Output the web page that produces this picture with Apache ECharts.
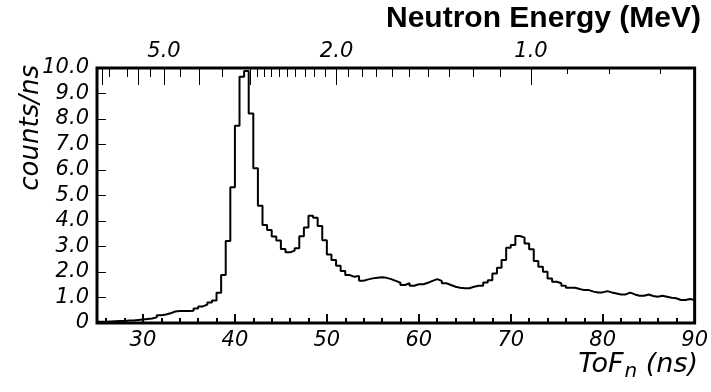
<!DOCTYPE html>
<html>
<head>
<meta charset="utf-8">
<script src="https://cdn.jsdelivr.net/npm/echarts@6/dist/echarts.min.js"></script>
<style>
  html, body { margin: 0; padding: 0; background: #fff; }
  #chart { width: 711px; height: 392px; }
</style>
</head>
<body>
<div id="chart"></div>
<script>
// ToF histogram, 0.5 ns bins starting at 25 ns
const TOF_MIN = 25;
const TOF_MAX = 90;
const BIN_WIDTH = 0.5;
const counts = [
  0.05, 0.05, 0.06, 0.07, 0.08, 0.08, 0.10, 0.10, 0.12, 0.14,
  0.16, 0.18, 0.22, 0.30, 0.33, 0.38, 0.45, 0.47, 0.47, 0.47,
  0.48, 0.57, 0.65, 0.72, 0.80, 0.88, 1.19, 1.88, 3.22, 5.32,
  7.74, 9.66, 9.88, 8.22, 6.07, 4.60, 3.84, 3.65, 3.39, 3.24,
  2.90, 2.77, 2.84, 2.93, 3.40, 3.75, 4.21, 4.13, 3.80, 3.25,
  2.69, 2.47, 2.25, 2.04, 1.88, 1.81, 1.84, 1.66, 1.71, 1.75,
  1.77, 1.79, 1.77, 1.72, 1.65, 1.58, 1.49, 1.56, 1.46, 1.52,
  1.52, 1.58, 1.65, 1.72, 1.65, 1.56, 1.49, 1.42, 1.38, 1.36,
  1.36, 1.42, 1.46, 1.46, 1.59, 1.68, 1.94, 2.17, 2.47, 2.95,
  3.06, 3.41, 3.35, 3.12, 2.89, 2.43, 2.21, 2.01, 1.75, 1.62,
  1.56, 1.46, 1.38, 1.38, 1.33, 1.29, 1.29, 1.23, 1.20, 1.20,
  1.25, 1.20, 1.16, 1.12, 1.12, 1.19, 1.12, 1.07, 1.07, 1.12,
  1.06, 1.03, 1.07, 1.03, 0.99, 0.97, 0.90, 0.90, 0.94, 0.90
];

const tofLabels = [30, 40, 50, 60, 70, 80, 90];
const tofMinorTicks = [26, 28, 32, 34, 36, 38, 42, 44, 46, 48, 52, 54, 56, 58,
  62, 64, 66, 68, 72, 74, 76, 78, 82, 84, 86, 88];

// top axis: neutron energy (MeV), ToF = FLIGHT_CONST / sqrt(E)
const FLIGHT_CONST = 72.2;
const energyLabels = [5.0, 2.0, 1.0];
const energyLongTicks = [8, 6, 5, 4, 3, 2, 1];
const energyMidTicks = [7.5, 6.5, 5.5, 4.5, 3.5,
  2.9, 2.8, 2.7, 2.6, 2.5, 2.4, 2.3, 2.2, 2.1,
  1.9, 1.8, 1.7, 1.6, 1.5, 1.4, 1.3, 1.2, 1.1];
const energyShortTicks = [0.9, 0.8, 0.7];

const eToTof = (e) => FLIGHT_CONST / Math.sqrt(e);
const tofToE = (t) => (FLIGHT_CONST / t) * (FLIGHT_CONST / t);

const histData = counts.map((v, i) => [TOF_MIN + i * BIN_WIDTH, v]);
histData.push([TOF_MAX, counts[counts.length - 1]]);

const labelFont = {
  color: "#000",
  fontFamily: "DejaVu Sans",
  fontStyle: "italic",
  fontSize: 21,
};

function topAxis(energies, length, withLabels) {
  return {
    type: "value",
    position: "top",
    min: TOF_MIN,
    max: TOF_MAX,
    axisLine: { show: false },
    splitLine: { show: false },
    axisTick: {
      show: true,
      inside: true,
      length: length,
      customValues: energies.map(eToTof),
      lineStyle: { color: "#000", width: 1 },
    },
    axisLabel: withLabels
      ? {
          show: true,
          margin: 6,
          customValues: energies.map(eToTof),
          formatter: (v) => tofToE(v).toFixed(1),
          ...labelFont,
        }
      : { show: false },
  };
}

const chart = echarts.init(document.getElementById("chart"), null, { renderer: "canvas" });

chart.setOption({
  animation: false,
  backgroundColor: "#fff",
  grid: {
    left: 97,
    right: 11,
    top: 68,
    bottom: 69,
    show: true,
    borderColor: "#000",
    borderWidth: 3,
  },
  xAxis: [
    {
      type: "value",
      position: "bottom",
      min: TOF_MIN,
      max: TOF_MAX,
      axisLine: { show: false },
      splitLine: { show: false },
      axisTick: {
        show: true,
        inside: true,
        length: 9,
        customValues: tofLabels,
        lineStyle: { color: "#000", width: 2 },
      },
      axisLabel: { show: true, margin: 7, customValues: tofLabels, ...labelFont },
    },
    {
      type: "value",
      position: "bottom",
      min: TOF_MIN,
      max: TOF_MAX,
      axisLine: { show: false },
      splitLine: { show: false },
      axisTick: {
        show: true,
        inside: true,
        length: 5,
        customValues: tofMinorTicks,
        lineStyle: { color: "#000", width: 2 },
      },
      axisLabel: { show: false },
    },
    topAxis(energyLongTicks, 17, false),
    topAxis(energyMidTicks, 9, false),
    topAxis(energyShortTicks, 6, false),
    topAxis(energyLabels, 0, true),
  ],
  yAxis: {
    type: "value",
    min: 0,
    max: 10,
    interval: 1,
    axisLine: { show: false },
    splitLine: { show: false },
    axisTick: {
      show: true,
      inside: true,
      length: 9,
      lineStyle: { color: "#000", width: 1 },
    },
    axisLabel: {
      margin: 8,
      formatter: (v) => (v === 0 ? "0" : v.toFixed(1)),
      ...labelFont,
    },
  },
  series: [
    {
      type: "line",
      step: "end",
      data: histData,
      symbol: "none",
      lineStyle: { color: "#000", width: 2 },
    },
  ],
  graphic: [
    {
      type: "text",
      right: 10,
      top: 4,
      style: {
        text: "Neutron Energy (MeV)",
        fontFamily: "Liberation Sans",
        fontWeight: "bold",
        fontSize: 30,
        fill: "#000",
      },
    },
    {
      type: "text",
      x: 31,
      y: 65,
      rotation: Math.PI / 2,
      style: {
        text: "counts/ns",
        fontFamily: "DejaVu Sans",
        fontStyle: "italic",
        fontSize: 26,
        fill: "#000",
        align: "right",
        verticalAlign: "middle",
      },
    },
    {
      type: "text",
      right: 13,
      top: 351,
      style: {
        text: "{t|ToF}{s|n}{t| (ns)}",
        rich: {
          t: { fontFamily: "DejaVu Sans", fontStyle: "italic", fontSize: 27, fill: "#000" },
          s: { fontFamily: "DejaVu Sans", fontStyle: "italic", fontSize: 20, fill: "#000", padding: [15, 0, 0, 1] },
        },
      },
    },
  ],
});
</script>
</body>
</html>
